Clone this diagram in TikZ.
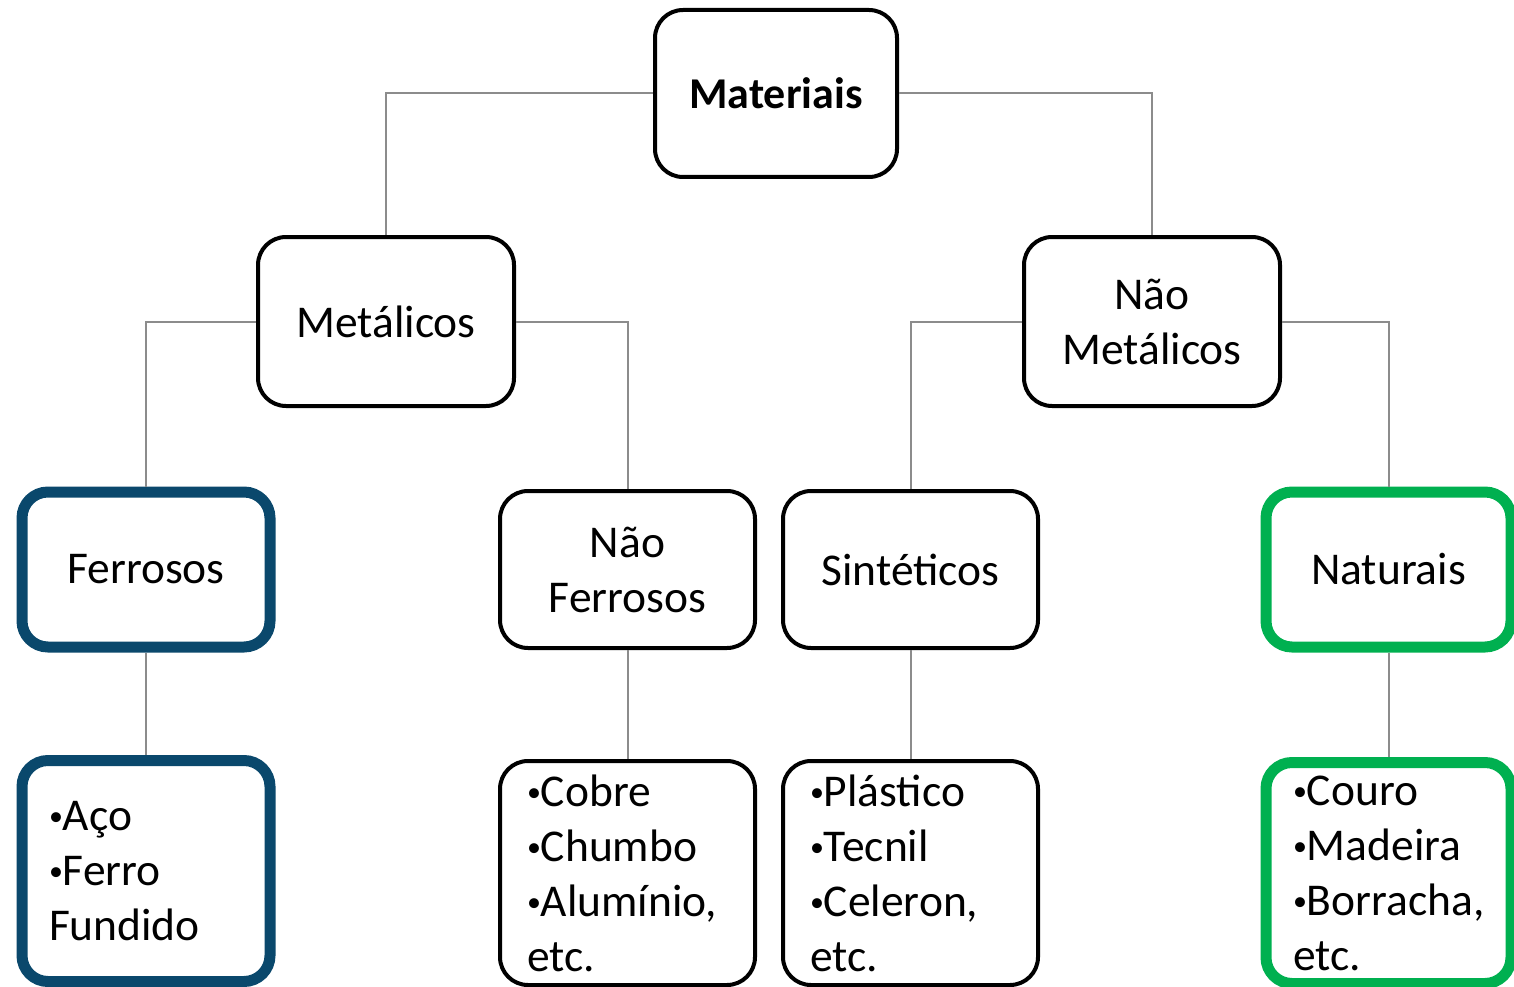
\documentclass[tikz,border=0pt]{standalone}
\usepackage{fontspec}
\setmainfont{Carlito}
\usetikzlibrary{positioning}

\definecolor{ferroblue}{RGB}{10,72,108}
\definecolor{natgreen}{RGB}{0,176,80}
\newcommand{\itm}{\raisebox{5pt}{\fontsize{28}{55}\selectfont•}}

\begin{document}
\begin{tikzpicture}[x=1pt, y=-1pt,
    box/.style={draw, line width=4, rounded corners=28, align=center,
        font=\fontsize{45.5}{55}\selectfont, inner sep=0pt},
    topbox/.style={box, minimum width=242, minimum height=167},
    midbox/.style={box, minimum width=256, minimum height=169},
    catbox/.style={box, minimum width=255, minimum height=157},
    listbox/.style={box, align=left, text width=201, inner xsep=27,
        minimum height=224},
    bluebox/.style={draw=ferroblue, line width=11, rounded corners=26},
    greenbox/.style={draw=natgreen, line width=11, rounded corners=26},
    link/.style={draw=black!45, line width=2}]
    \useasboundingbox (0,0) rectangle (1514,987);

    % root
    \node[topbox, font=\fontsize{44}{55}\selectfont\bfseries] (mat) at (776,93.5) {Materiais};

    % second level
    \node[midbox] (met) at (386,321.5) {Metálicos};
    \node[midbox] (nmet) at (1152,321.5) {Não\\Metálicos};

    % third level
    \node[catbox, bluebox, minimum width=248, minimum height=155] (fer) at (146,569.5) {Ferrosos};
    \node[catbox] (nfer) at (627.5,569.5) {Não\\Ferrosos};
    \node[catbox] (sint) at (910.5,569.5) {Sintéticos};
    \node[catbox, greenbox, minimum width=245, minimum height=155] (nat) at (1388.5,569.5) {Naturais};

    % examples
    \node[listbox, bluebox, text width=194, inner xsep=27, minimum height=221] (exfer) at (146,871) {\itm Aço\\\itm Ferro\\Fundido};
    \node[listbox] (exnfer) at (627.5,873) {\itm Cobre\\\itm Chumbo\\\itm Alumínio,\\etc.};
    \node[listbox] (exsint) at (910.5,873) {\itm Plástico\\\itm Tecnil\\\itm Celeron,\\etc.};
    \node[listbox, greenbox, text width=191, inner xsep=27, minimum height=221] (exnat) at (1388.5,873) {\itm Couro\\\itm Madeira\\\itm Borracha,\\etc.};

    % connectors
    \draw[link] (mat.west) -| (met.north);
    \draw[link] (mat.east) -| (nmet.north);
    \draw[link] (met.west) -| (fer.north);
    \draw[link] (met.east) -| (nfer.north);
    \draw[link] (nmet.west) -| (sint.north);
    \draw[link] (nmet.east) -| (nat.north);
    \draw[link] (fer) -- (exfer);
    \draw[link] (nfer) -- (exnfer);
    \draw[link] (sint) -- (exsint);
    \draw[link] (nat) -- (exnat);
\end{tikzpicture}
\end{document}
